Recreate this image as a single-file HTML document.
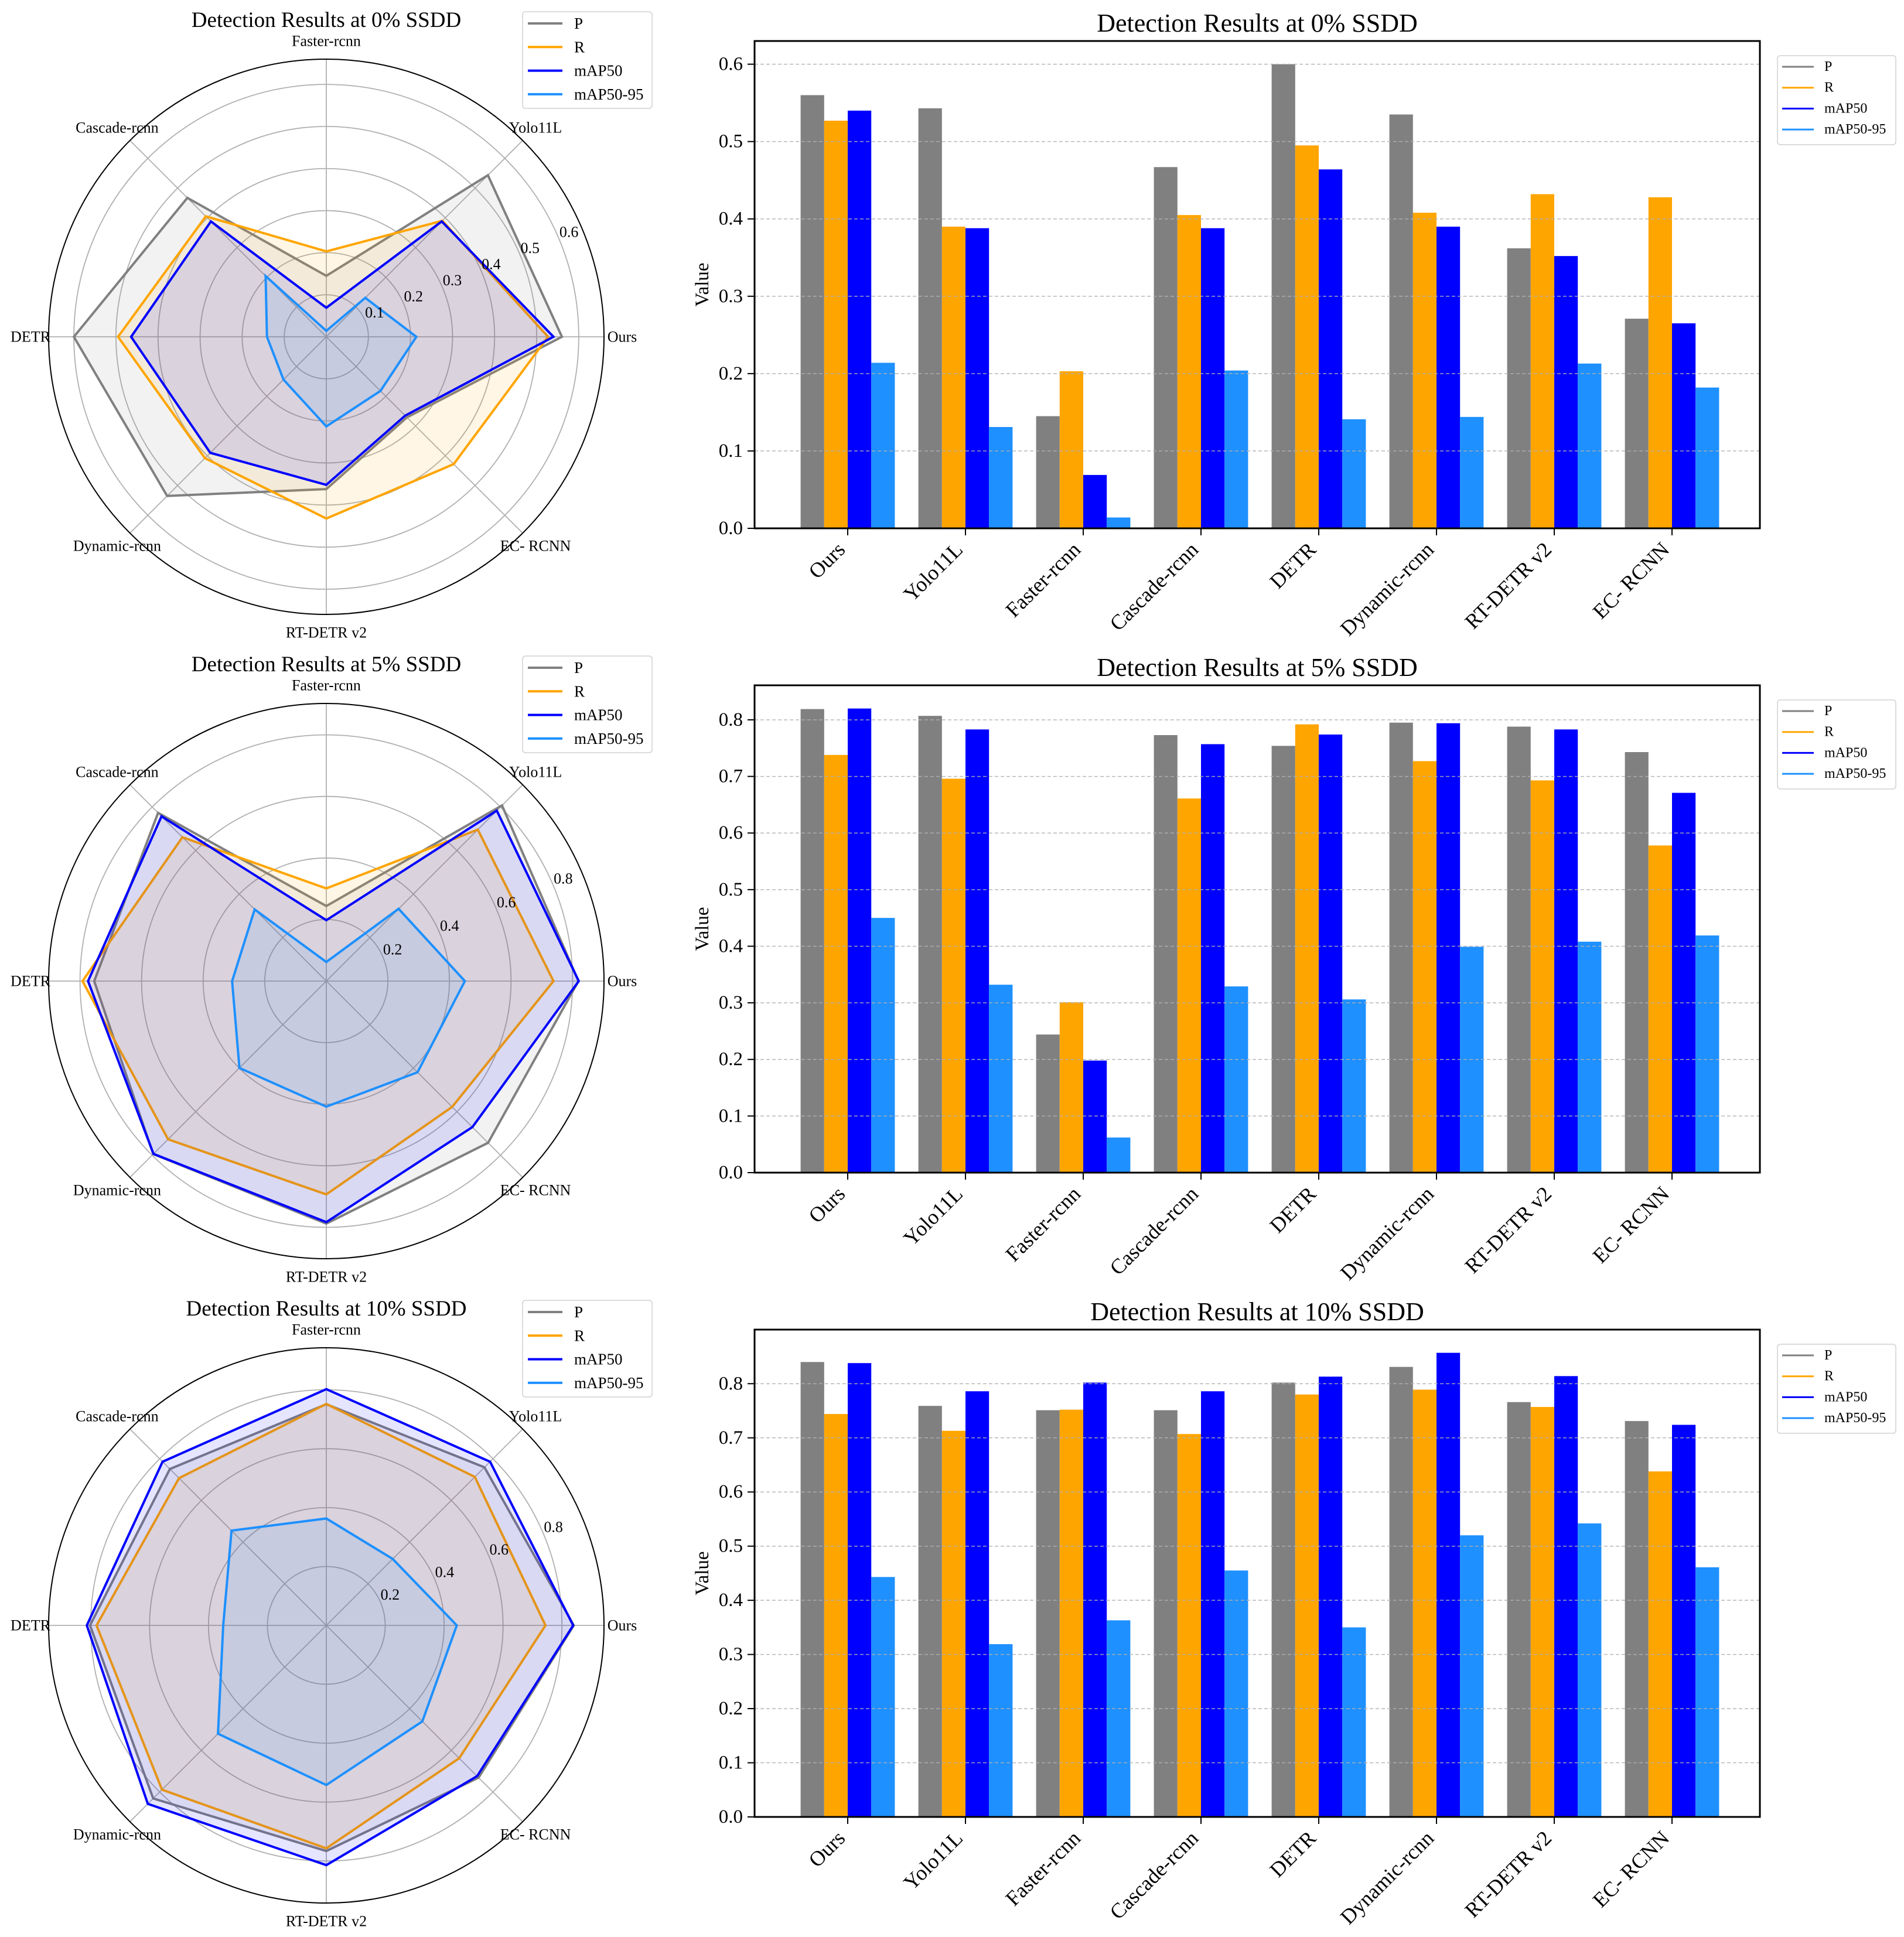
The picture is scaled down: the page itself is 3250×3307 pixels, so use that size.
<!DOCTYPE html>
<html><head><meta charset="utf-8">
<style>
html,body{margin:0;padding:0;background:#fff;}
svg{display:block;font-family:"Liberation Serif","Times New Roman",serif;}
</style></head>
<body>
<svg id="fig" xmlns="http://www.w3.org/2000/svg" width="3250" height="3307" viewBox="0 0 3250 3307"></svg>
<script>
const categories = ["Ours","Yolo11L","Faster-rcnn","Cascade-rcnn","DETR","Dynamic-rcnn","RT-DETR v2","EC- RCNN"];
const seriesNames = ["P","R","mAP50","mAP50-95"];
const titles = ["Detection Results at 0% SSDD","Detection Results at 5% SSDD","Detection Results at 10% SSDD"];
// 0% SSDD
const p0 = [0.560,0.543,0.145,0.467,0.600,0.535,0.362,0.271];
const r0 = [0.527,0.390,0.203,0.405,0.495,0.408,0.432,0.428];
const m0 = [0.540,0.388,0.069,0.388,0.464,0.390,0.352,0.265];
const mm0 = [0.214,0.131,0.014,0.204,0.141,0.144,0.213,0.182];
// 5% SSDD
const p5 = [0.819,0.807,0.244,0.773,0.754,0.795,0.788,0.743];
const r5 = [0.738,0.696,0.301,0.661,0.792,0.727,0.693,0.578];
const m5 = [0.820,0.783,0.198,0.757,0.774,0.794,0.783,0.671];
const mm5 = [0.450,0.332,0.062,0.329,0.306,0.399,0.408,0.419];
// 10% SSDD
const p10 = [0.840,0.759,0.751,0.751,0.802,0.831,0.766,0.731];
const r10 = [0.744,0.713,0.752,0.707,0.780,0.789,0.757,0.638];
const m10 = [0.838,0.786,0.802,0.786,0.813,0.857,0.814,0.724];
const mm10 = [0.443,0.319,0.363,0.455,0.350,0.520,0.542,0.461];
const barTicks0 = ["0.0","0.1","0.2","0.3","0.4","0.5","0.6"];
const barTicks5 = ["0.0","0.1","0.2","0.3","0.4","0.5","0.6","0.7","0.8"];
const barTicks10 = ["0.0","0.1","0.2","0.3","0.4","0.5","0.6","0.7","0.8"];
const ringTicks0 = ["0.1","0.2","0.3","0.4","0.5","0.6"];
const ringTicks5 = ["0.2","0.4","0.6","0.8"];
const ringTicks10 = ["0.2","0.4","0.6","0.8"];

const rows = [
  {series:[p0,r0,m0,mm0], barTicks:barTicks0, ringTicks:ringTicks0},
  {series:[p5,r5,m5,mm5], barTicks:barTicks5, ringTicks:ringTicks5},
  {series:[p10,r10,m10,mm10], barTicks:barTicks10, ringTicks:ringTicks10}
];
const colors = ["#808080","#ffa500","#0000ff","#1e90ff"];
const NS = "http://www.w3.org/2000/svg";
const svg = document.getElementById("fig");
function mk(tag, attrs, parent, text){
  const e = document.createElementNS(NS, tag);
  for (const k in attrs) e.setAttribute(k, attrs[k]);
  if (text !== undefined) e.textContent = text;
  (parent||svg).appendChild(e);
  return e;
}

rows.forEach((row, ri) => {
  const oy = ri * 1100;
  const maxV = Math.max(...row.series.flat());

  // ---------- RADAR ----------
  const g = mk("g", {});
  
  
  const cx = 557, cy = 575 + oy, R = 474;
  const rmax = maxV * 1.1;
  const rs = v => v / rmax * R;
  const ang = i => i * Math.PI / 4;
  row.ringTicks.forEach(t => {
    const c = mk("circle", {cx:cx, cy:cy, r:rs(parseFloat(t)), fill:"none", stroke:"#b0b0b0", "stroke-width":1.8}, g);
    
    
  });
  categories.forEach((c, i) => {
    const a = ang(i);
    const s = mk("line", {x1:cx, y1:cy, x2:cx+R*Math.cos(a), y2:cy-R*Math.sin(a), stroke:"#b0b0b0", "stroke-width":1.8}, g);
    
    
  });
  const oc = mk("circle", {cx:cx, cy:cy, r:R, fill:"none", stroke:"#000", "stroke-width":2}, g);
  
  
  row.series.forEach((vals, si) => {
    const pts = vals.map((v, i) => {
      const a = ang(i), r = rs(v);
      return (cx + r*Math.cos(a)).toFixed(1) + "," + (cy - r*Math.sin(a)).toFixed(1);
    }).join(" ");
    const f = mk("polygon", {points:pts, fill:colors[si], "fill-opacity":0.1, stroke:"none"}, g);
    
    
    const l = mk("polygon", {points:pts, fill:"none", stroke:colors[si], "stroke-width":4, "stroke-linejoin":"miter"}, g);
    
    
  });
  row.ringTicks.forEach(t => {
    const r = rs(parseFloat(t)), a = Math.PI/8;
    const tx = mk("text", {x:cx + r*Math.cos(a) + 16, y:cy - r*Math.sin(a) - 14, "font-size":26, "text-anchor":"middle", "dominant-baseline":"central", fill:"#000"}, g, t);
    
    
  });
  categories.forEach((c, i) => {
    const a = ang(i), r = 505;
    const tx = mk("text", {x:cx + r*Math.cos(a), y:cy - r*Math.sin(a), "font-size":26, "text-anchor":"middle", "dominant-baseline":"central", fill:"#000"}, g, c);
    
    
  });
  const rt = mk("text", {x:557, y:46+oy, "font-size":37, "text-anchor":"middle", fill:"#000"}, g, titles[ri]);
  
  
  const lg = mk("g", {}, g);
  
  
  mk("rect", {x:892, y:20+oy, width:221, height:165, rx:5, fill:"#fff", "fill-opacity":0.8, stroke:"#d0d0d0", "stroke-width":1.5}, lg);
  seriesNames.forEach((n, si) => {
    const y = 40 + oy + si*40.3;
    const e = mk("g", {}, lg);
    
    
    mk("line", {x1:901, y1:y, x2:960, y2:y, stroke:colors[si], "stroke-width":4}, e);
    mk("text", {x:980, y:y, "font-size":27, "dominant-baseline":"central", fill:"#000"}, e, n);
  });

  // ---------- BAR CHART ----------
  const bg = mk("g", {});
  
  
  const L = 1288, Rr = 3004, T = 70 + oy, B = 902 + oy;
  const ymax = maxV * 1.05;
  const yS = v => B - v / ymax * (B - T);
  const unit = 201, x0 = 1447;
  const xS = v => x0 + v * unit;
  const bw = 0.2 * unit;
  row.series.forEach((vals, si) => {
    vals.forEach((v, i) => {
      const r = mk("rect", {x:xS(i) + (si-2)*bw, y:yS(v), width:bw, height:B - yS(v), fill:colors[si]}, bg);
      
      
    });
  });
  row.barTicks.forEach(t => {
    const y = yS(parseFloat(t));
    const gl = mk("line", {x1:L, y1:y, x2:Rr, y2:y, stroke:"#b0b0b0", "stroke-width":1.5, "stroke-dasharray":"6,4", "stroke-opacity":0.9}, bg);
    
    
    mk("line", {x1:L-12, y1:y, x2:L, y2:y, stroke:"#000", "stroke-width":2}, bg);
    const tx = mk("text", {x:L-20, y:y, "font-size":33, "text-anchor":"end", "dominant-baseline":"central", fill:"#000"}, bg, t);
    
    
  });
  const fr = mk("rect", {x:L, y:T, width:Rr-L, height:B-T, fill:"none", stroke:"#000", "stroke-width":3}, bg);
  
  
  categories.forEach((c, i) => {
    const x = xS(i);
    mk("line", {x1:x, y1:B, x2:x, y2:B+12, stroke:"#000", "stroke-width":2}, bg);
    const ax = x - 11, ay = B + 30;
    const tx = mk("text", {x:ax, y:ay, "font-size":36, "text-anchor":"end", "dominant-baseline":"central", transform:"rotate(-45 " + ax + " " + ay + ")", fill:"#000"}, bg, c);
    
    
  });
  const yl = mk("text", {x:1199, y:(T+B)/2, "font-size":33, "text-anchor":"middle", "dominant-baseline":"central", transform:"rotate(-90 1199 " + ((T+B)/2) + ")", fill:"#000"}, bg, "Value");
  
  
  const bt = mk("text", {x:(L+Rr)/2, y:54+oy, "font-size":44, "text-anchor":"middle", fill:"#000"}, bg, titles[ri]);
  
  
  const bl = mk("g", {}, bg);
  
  
  mk("rect", {x:3034, y:95+oy, width:202, height:152, rx:5, fill:"#fff", "fill-opacity":0.8, stroke:"#d0d0d0", "stroke-width":1.5}, bl);
  seriesNames.forEach((n, si) => {
    const y = 114 + oy + si*35.7;
    const e = mk("g", {}, bl);
    
    
    mk("line", {x1:3042, y1:y, x2:3096, y2:y, stroke:colors[si], "stroke-width":3}, e);
    mk("text", {x:3114, y:y, "font-size":24, "dominant-baseline":"central", fill:"#000"}, e, n);
  });
});
</script>
</body></html>
